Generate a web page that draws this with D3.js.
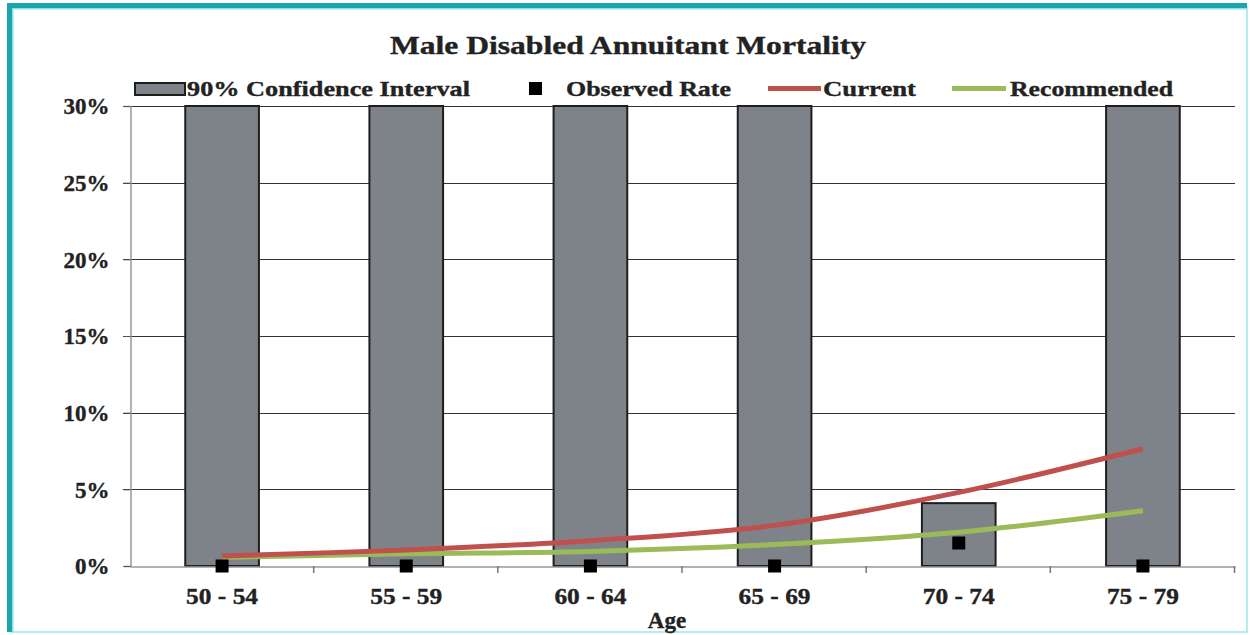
<!DOCTYPE html>
<html>
<head>
<meta charset="utf-8">
<script src="https://cdn.jsdelivr.net/npm/d3@7"></script>
<style>
  html, body { margin: 0; padding: 0; background: #ffffff; }
  svg { display: block; }
  text { font-family: "Liberation Serif", "Times New Roman", serif; font-weight: bold; fill: #222; stroke: #222; stroke-width: 0.35px; }
</style>
</head>
<body>
<svg id="chart" width="1250" height="635"></svg>
<script>
// Age bands and rates (percent)
const ageGroups = ["50 - 54", "55 - 59", "60 - 64", "65 - 69", "70 - 74", "75 - 79"];
const ciUpper = [30, 30, 30, 30, 4.1, 30];
const observedRate = [0, 0, 0, 0, 1.5, 0];
const currentRate = [0.65, 1.05, 1.65, 2.65, 4.8, 7.65];
const recommendedRate = [0.55, 0.8, 0.95, 1.4, 2.2, 3.6];
const yTicks = [0, 5, 10, 15, 20, 25, 30];

const svg = d3.select("#chart");
const W = 1250, H = 635;
const plot = { left: 130, right: 1235, top: 106, bottom: 566 };

// Frame
svg.append("rect").attr("x", 0).attr("y", 0).attr("width", W).attr("height", H).attr("fill", "#ffffff");
svg.append("rect").attr("x", 10).attr("y", 6.5).attr("width", 1237).attr("height", 625.5)
  .attr("fill", "none").attr("stroke", "#9be6ec").attr("stroke-width", 1.5);
svg.append("rect").attr("x", 7).attr("y", 3).attr("width", 1240).attr("height", 5).attr("fill", "#1ba5ad");
svg.append("rect").attr("x", 7).attr("y", 3).attr("width", 5).attr("height", 629).attr("fill", "#1ba5ad");
svg.append("rect").attr("x", 12).attr("y", 8).attr("width", 1.5).attr("height", 624).attr("fill", "#8fe0e6");
svg.append("rect").attr("x", 12).attr("y", 8).attr("width", 1235).attr("height", 1.5).attr("fill", "#8fe0e6");

const x = d3.scaleBand().domain(ageGroups).range([plot.left, plot.right]).padding(0);
const y = d3.scaleLinear().domain([0, 30]).range([plot.bottom, plot.top]);
const barW = x.bandwidth() * 0.4;
const cx = d => x(d) + x.bandwidth() / 2;

// Title
svg.append("text").attr("x", 628).attr("y", 54).attr("text-anchor", "middle")
  .attr("font-size", 25).attr("textLength", 476).attr("lengthAdjust", "spacingAndGlyphs")
  .text("Male Disabled Annuitant Mortality");

// Gridlines
svg.append("g").selectAll("line").data(yTicks.filter(t => t > 0)).join("line")
  .attr("x1", plot.left - 7).attr("x2", plot.right)
  .attr("y1", d => Math.round(y(d)) + 0.5).attr("y2", d => Math.round(y(d)) + 0.5)
  .attr("stroke", "#333").attr("stroke-width", 1);

// Y axis
const yAxis = d3.axisLeft(y).tickValues(yTicks).tickFormat(d => d + "%").tickSize(7).tickPadding(14);
const gy = svg.append("g").attr("transform", `translate(${plot.left + 0.5},0)`).call(yAxis);
gy.select(".domain").attr("stroke", "#999").attr("stroke-width", 1.5);
gy.selectAll(".tick line").attr("stroke", "#555");
gy.selectAll(".tick text").attr("font-size", 23).attr("fill", "#222").attr("dy", "0.34em")
  .attr("font-family", "Liberation Serif, serif").attr("font-weight", "bold");

// Confidence interval bars
svg.append("g").selectAll("rect").data(ageGroups).join("rect")
  .attr("x", d => cx(d) - barW / 2)
  .attr("y", (d, i) => y(ciUpper[i]))
  .attr("width", barW)
  .attr("height", (d, i) => y(0) - y(ciUpper[i]))
  .attr("fill", "#7e838a").attr("stroke", "#1e1e1e").attr("stroke-width", 2);

// X axis
const xAxis = d3.axisBottom(x).tickSize(0).tickPadding(21);
const gx = svg.append("g").attr("transform", `translate(0,${plot.bottom + 0.5})`).call(xAxis);
gx.select(".domain").attr("stroke", "#999").attr("stroke-width", 1.5);
gx.selectAll(".tick text").attr("font-size", 23).attr("fill", "#222")
  .attr("textLength", 72).attr("lengthAdjust", "spacingAndGlyphs")
  .attr("font-family", "Liberation Serif, serif").attr("font-weight", "bold");
// Band boundary ticks
const bounds = ageGroups.map(d => x(d)).concat([plot.right]);
svg.append("g").selectAll("line").data(bounds.slice(1)).join("line")
  .attr("x1", d => d - 0.5).attr("x2", d => d - 0.5)
  .attr("y1", plot.bottom).attr("y2", plot.bottom + 7)
  .attr("stroke", "#777").attr("stroke-width", 1.5);

// Axis title
svg.append("text").attr("x", 667).attr("y", 628).attr("text-anchor", "middle")
  .attr("font-size", 23).text("Age");

// Rate curves
const line = d3.line().x((d, i) => cx(ageGroups[i])).y(d => y(d)).curve(d3.curveCatmullRom.alpha(0.5));
svg.append("path").datum(recommendedRate).attr("d", line)
  .attr("fill", "none").attr("stroke", "#9bbb59").attr("stroke-width", 5).attr("stroke-linecap", "butt");
svg.append("path").datum(currentRate).attr("d", line)
  .attr("fill", "none").attr("stroke", "#c0504d").attr("stroke-width", 5).attr("stroke-linecap", "butt");

// Observed markers
const mk = 13;
svg.append("g").selectAll("rect").data(ageGroups).join("rect")
  .attr("x", d => cx(d) - mk / 2)
  .attr("y", (d, i) => y(observedRate[i]) - mk / 2)
  .attr("width", mk).attr("height", mk).attr("fill", "#000");

// Legend
const ly = 88;
const leg = svg.append("g");
leg.append("rect").attr("x", 135).attr("y", ly - 5).attr("width", 50).attr("height", 12)
  .attr("fill", "#7e838a").attr("stroke", "#1e1e1e").attr("stroke-width", 2);
leg.append("text").attr("x", 187).attr("y", ly + 8).attr("font-size", 21)
  .attr("textLength", 283).attr("lengthAdjust", "spacingAndGlyphs").text("90% Confidence Interval");
leg.append("rect").attr("x", 529).attr("y", ly - 6).attr("width", 13).attr("height", 13).attr("fill", "#000");
leg.append("text").attr("x", 566).attr("y", ly + 8).attr("font-size", 21)
  .attr("textLength", 165).attr("lengthAdjust", "spacingAndGlyphs").text("Observed Rate");
leg.append("line").attr("x1", 768).attr("x2", 821).attr("y1", ly + 0.5).attr("y2", ly + 0.5)
  .attr("stroke", "#c0504d").attr("stroke-width", 5);
leg.append("text").attr("x", 823).attr("y", ly + 8).attr("font-size", 21)
  .attr("textLength", 93).attr("lengthAdjust", "spacingAndGlyphs").text("Current");
leg.append("line").attr("x1", 952).attr("x2", 1006).attr("y1", ly + 0.5).attr("y2", ly + 0.5)
  .attr("stroke", "#9bbb59").attr("stroke-width", 5);
leg.append("text").attr("x", 1010).attr("y", ly + 8).attr("font-size", 21)
  .attr("textLength", 163).attr("lengthAdjust", "spacingAndGlyphs").text("Recommended");
</script>
</body>
</html>
